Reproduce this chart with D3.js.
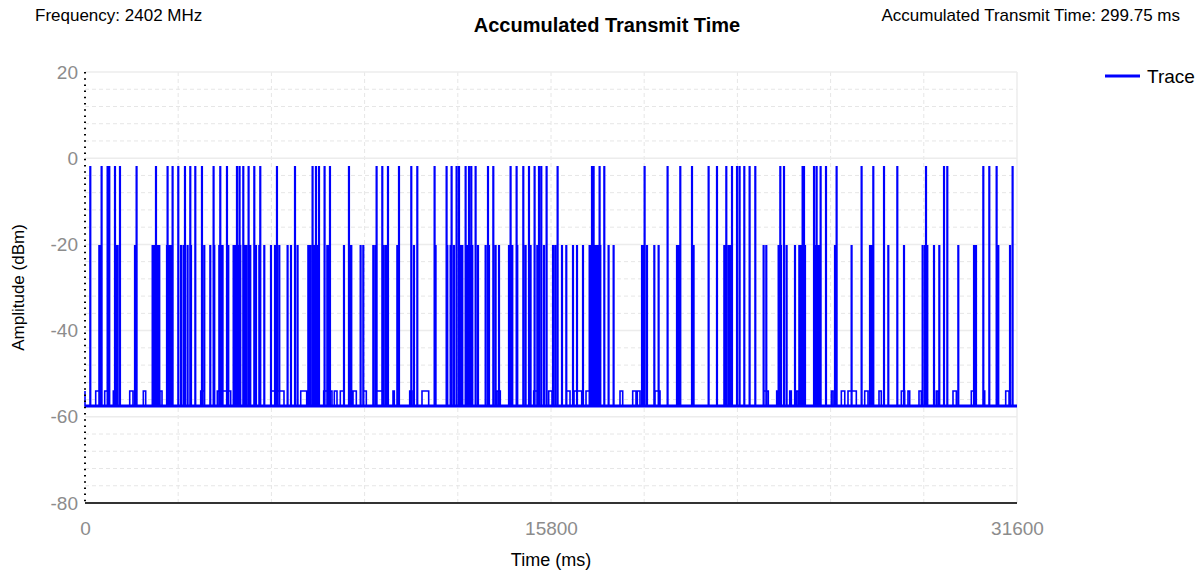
<!DOCTYPE html>
<html lang="en">
<head>
	<meta charset="UTF-8">
	<title>Accumulated Transmit Time</title>
	<script src="https://d3js.org/d3.v7.min.js"></script>
	<style>
		body { margin: 0; background: #fff; }
		text { font-family: "Liberation Sans", Arial, sans-serif; }
	</style>
</head>
<body>
	<svg width="1203" height="573"></svg>
	<script>

		// data (time in ms, amplitude in dBm)
		var baseLevel = -57.5;
		var fullLevel = -2;
		var midLevel = -20.3;
		var lowLevel = -54;

		var fullSpikes = [170, 553, 756, 814, 1007, 1176, 1739, 2397, 2790, 2960, 3153, 3380, 3560, 3730, 3956,
			4350, 4577, 4804, 5143, 5231, 5357, 5537, 5730, 5933, 6499, 7110, 7706, 7821, 7924, 8113, 8296,
			8940, 9877, 10070, 10263, 10636, 11053, 11257, 11843, 12250, 12420, 12589, 12671, 12895, 13010,
			13088, 13234, 13654, 13834, 14420, 14624, 14851, 15044, 15234, 15383, 15461, 15641, 16014, 17180,
			17235, 17438, 17597, 18964, 19743, 20174, 20571, 21134, 21418, 21734, 21927, 22097, 22185, 22344,
			22524, 22717, 23565, 23690, 24321, 24368, 24708, 24796, 24932, 25114, 25474, 26321, 26718, 27081,
			27532, 28505, 29116, 29227, 30448, 30651, 30899, 31441];

		var midSpikes = [475, 509, 1061, 1095, 1685, 1719, 2282, 2340, 2397, 2451, 2509, 2770, 2814, 2882, 2926,
			3245, 3333, 3469, 3584, 4035, 4238, 4374, 4543, 4601, 4655, 4849, 5028, 5076, 5143, 5188, 5255,
			5391, 5449, 5527, 5594, 5788, 5900, 6069, 6296, 6432, 6578, 6859, 6974, 7198, 7561, 7629, 7707,
			7764, 7866, 8205, 8263, 8771, 8975, 9019, 9335, 9426, 9765, 9843, 10104, 10182, 10240, 10579, 11145,
			11877, 12274, 12386, 12501, 12725, 12783, 12952, 13044, 13122, 13315, 13573, 13688, 13912, 14027,
			14366, 14478, 14647, 14929, 15098, 15326, 15553, 15858, 15936, 16014, 16163, 16309, 16536, 16672,
			16875, 17099, 17147, 17214, 17292, 17350, 17404, 17462, 17743, 17913, 18876, 18930, 19045, 19293,
			19439, 20062, 20117, 20625, 21666, 21734, 21812, 21869, 22999, 23090, 23507, 23588, 23779, 24063,
			24209, 24253, 24402, 24775, 24819, 24853, 24887, 25419, 25453, 25982, 26606, 26661, 27227, 27759,
			28390, 28471, 28549, 28776, 28956, 29600, 30133, 30200, 30956, 31353];

		var lowStarts = [363, 668, 960, 1516, 1977, 2543, 3923, 4486, 6296, 7314, 8093, 8453, 8657, 9087, 9449,
			9877, 10443, 11009, 11426, 13969, 15213, 15722, 16332, 16580, 16987, 18140, 18570, 18726, 19326,
			22999, 23452, 23894, 24117, 25305, 25644, 25870, 26436, 26921, 27678, 27904, 28277, 28864, 29430,
			30051, 30448, 31217];
		var lowEnds = [475, 780, 1041, 1627, 2058, 2611, 4035, 4940, 6747, 7517, 8374, 8544, 8771, 9199, 9538,
			10104, 10487, 11087, 11653, 14081, 15325, 15834, 16445, 16841, 17099, 18231, 18682, 18817, 19496,
			23168, 23565, 23948, 24175, 25362, 25760, 26152, 26548, 26999, 27792, 27962, 28356, 28922, 29543,
			30200, 30505, 31330];

		var xTicks = [0, 15800, 31600];
		var yTicks = [20, 0, -20, -40, -60, -80];

		var margin = {top: 72, right: 186, bottom: 70, left: 85};
		var width = 1203 - margin.left - margin.right;
		var height = 573 - margin.top - margin.bottom;

		var svg = d3.select("svg");
		var g = svg.append("g")
			.attr("transform", "translate(" + margin.left + "," + margin.top + ")");

		var xScale = d3.scaleLinear().domain([0, 31600]).range([0, width]);
		var yScale = d3.scaleLinear().domain([-80, 20]).range([height, 0]);

		// grid, minor dashed lines
		g.append("g").selectAll("line")
			.data(d3.range(-76, 20, 4).filter(function(d){ return d % 20 != 0; }))
			.enter().append("line")
			.attr("x1", 0).attr("x2", width)
			.attr("y1", function(d){ return yScale(d); })
			.attr("y2", function(d){ return yScale(d); })
			.attr("stroke", "#e6e6e6")
			.attr("stroke-dasharray", "4,3");

		g.append("g").selectAll("line")
			.data(d3.range(3160, 31600, 3160))
			.enter().append("line")
			.attr("y1", 0).attr("y2", height)
			.attr("x1", function(d){ return xScale(d); })
			.attr("x2", function(d){ return xScale(d); })
			.attr("stroke", "#e6e6e6")
			.attr("stroke-dasharray", "4,3");

		// major grid lines
		g.append("g").selectAll("line")
			.data([20, 0, -20, -40, -60])
			.enter().append("line")
			.attr("x1", 0).attr("x2", width)
			.attr("y1", function(d){ return yScale(d); })
			.attr("y2", function(d){ return yScale(d); })
			.attr("stroke", "#ececec")
			.attr("stroke-width", 1.5);

		g.append("line")
			.attr("x1", width).attr("x2", width)
			.attr("y1", 0).attr("y2", height)
			.attr("stroke", "#ececec")
			.attr("stroke-width", 1.5);

		// build the trace as pulses on top of the baseline
		var pulses = [];
		fullSpikes.forEach(function(t){ pulses.push({t0: t, t1: t + 20, v: fullLevel}); });
		midSpikes.forEach(function(t){ pulses.push({t0: t, t1: t + 20, v: midLevel}); });
		lowStarts.forEach(function(t, i){ pulses.push({t0: t, t1: lowEnds[i], v: lowLevel}); });
		pulses.sort(function(a, b){ return a.t0 - b.t0; });

		var points = [[0, lowLevel], [0, baseLevel]];
		pulses.forEach(function(p){
			points.push([p.t0, baseLevel]);
			points.push([p.t0, p.v]);
			points.push([p.t1, p.v]);
			points.push([p.t1, baseLevel]);
		});
		points.push([31600, baseLevel]);

		var line = d3.line()
			.x(function(d){ return xScale(d[0]); })
			.y(function(d){ return yScale(d[1]); });

		g.append("path")
			.datum(points)
			.attr("d", line)
			.attr("fill", "none")
			.attr("stroke", "#0000ff")
			.attr("stroke-width", 1.6);

		// baseline band
		g.append("line")
			.attr("x1", 0).attr("x2", width)
			.attr("y1", yScale(baseLevel)).attr("y2", yScale(baseLevel))
			.attr("stroke", "#0000ff")
			.attr("stroke-width", 3);

		// left axis: dotted line
		g.append("line")
			.attr("x1", 0).attr("x2", 0)
			.attr("y1", 0).attr("y2", height)
			.attr("stroke", "#000")
			.attr("stroke-width", 2)
			.attr("stroke-dasharray", "1.5,4.7");

		// bottom axis: solid line
		g.append("line")
			.attr("x1", 0).attr("x2", width)
			.attr("y1", height).attr("y2", height)
			.attr("stroke", "#333")
			.attr("stroke-width", 2);

		// tick labels
		var yAxis = g.append("g")
			.call(d3.axisLeft(yScale).tickValues(yTicks).tickSize(0).tickPadding(7)
				.tickFormat(function(d){ return String(d); }));
		yAxis.select(".domain").remove();
		yAxis.selectAll("text")
			.style("font-family", "'Liberation Sans', Arial, sans-serif")
			.style("font-size", "19px")
			.attr("fill", "#8c8c8c");

		var xAxis = g.append("g")
			.attr("transform", "translate(0," + height + ")")
			.call(d3.axisBottom(xScale).tickValues(xTicks).tickFormat(function(d){ return String(d); })
				.tickSize(0).tickPadding(19));
		xAxis.select(".domain").remove();
		xAxis.selectAll("text")
			.style("font-family", "'Liberation Sans', Arial, sans-serif")
			.style("font-size", "19px")
			.attr("fill", "#8c8c8c");

		// axis titles
		svg.append("text")
			.attr("x", margin.left + width / 2)
			.attr("y", 566)
			.attr("text-anchor", "middle")
			.style("font-size", "18px")
			.text("Time (ms)");

		svg.append("text")
			.attr("transform", "translate(24," + (margin.top + height / 2) + ") rotate(-90)")
			.attr("text-anchor", "middle")
			.style("font-size", "17px")
			.text("Amplitude (dBm)");

		// titles
		svg.append("text")
			.attr("x", 607)
			.attr("y", 32)
			.attr("text-anchor", "middle")
			.style("font-size", "20px")
			.style("font-weight", "bold")
			.text("Accumulated Transmit Time");

		svg.append("text")
			.attr("x", 35)
			.attr("y", 21)
			.style("font-size", "17px")
			.text("Frequency: 2402 MHz");

		svg.append("text")
			.attr("x", 1180)
			.attr("y", 21)
			.attr("text-anchor", "end")
			.style("font-size", "17px")
			.text("Accumulated Transmit Time: 299.75 ms");

		// legend
		var legend = svg.append("g").attr("transform", "translate(1105,76)");
		legend.append("line")
			.attr("x1", 0).attr("x2", 35)
			.attr("stroke", "#0000ff")
			.attr("stroke-width", 3);
		legend.append("text")
			.attr("x", 42)
			.attr("y", 7)
			.style("font-size", "19px")
			.text("Trace");

	</script>
</body>
</html>
